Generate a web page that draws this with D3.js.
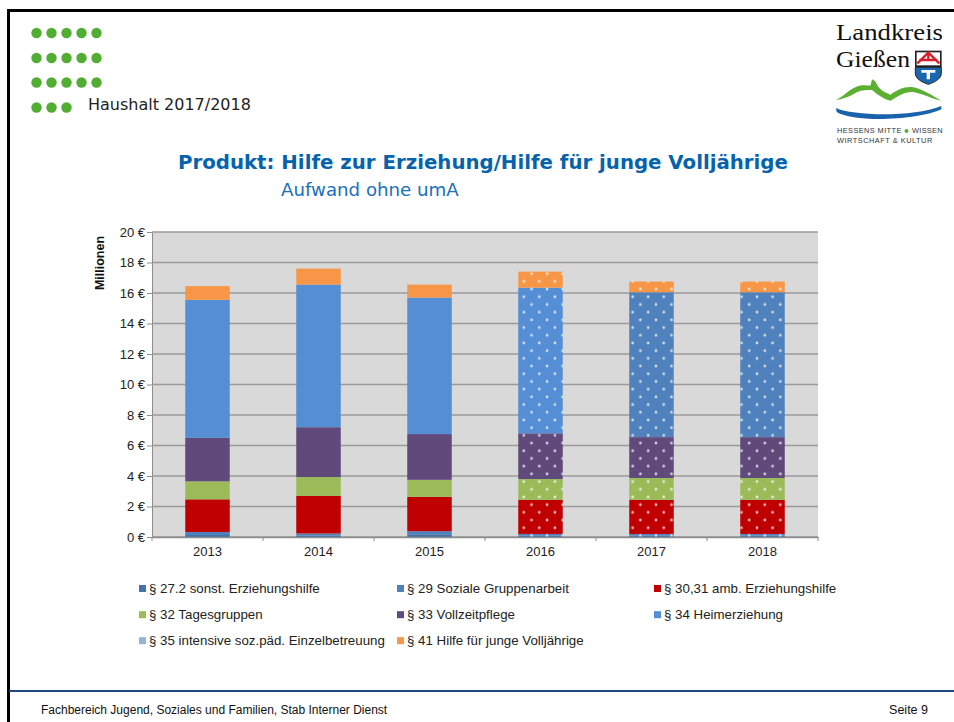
<!DOCTYPE html>
<html><head><meta charset="utf-8">
<script src="https://cdn.jsdelivr.net/npm/d3@7/dist/d3.min.js"></script>
<style>html,body{margin:0;padding:0;background:#fff}svg{display:block}</style>
</head><body><svg id="c" width="954" height="722"></svg>
<script>
const years = ["2013","2014","2015","2016","2017","2018"];
const yTicks = [0,2,4,6,8,10,12,14,16,18,20];
const seriesNames = ["§ 27.2 sonst. Erziehungshilfe","§ 29 Soziale Gruppenarbeit","§ 30,31 amb. Erziehungshilfe","§ 32 Tagesgruppen","§ 33 Vollzeitpflege","§ 34 Heimerziehung","§ 35 intensive soz.päd. Einzelbetreuung","§ 41 Hilfe für junge Volljährige"];
const seriesColors = ["#4572a7","#4f81bd","#c00000","#9bbb59","#604a7b","#558ed5","#95b3d7","#f79646"];
const s272 = [0.13,0.10,0.18,0.10,0.10,0.10];
const s29  = [0.20,0.13,0.20,0.10,0.10,0.10];
const s3031= [2.14,2.47,2.25,2.23,2.23,2.23];
const s32  = [1.18,1.23,1.12,1.37,1.44,1.44];
const s33  = [2.85,3.27,3.00,3.00,2.68,2.68];
const s34  = [9.05,9.35,8.95,9.55,9.50,9.50];
const s35  = [0,0,0,0,0,0];
const s41  = [0.90,1.05,0.85,1.05,0.70,0.70];
const allSeries = [s272,s29,s3031,s32,s33,s34,s35,s41];
const plannedYears = ["2016","2017","2018"];
const darkerHeimYears = ["2017","2018"];
const dotRows = [5,5,5,3];

const svg = d3.select("#c");
const defs = svg.append("defs");
const m = {l:152,r:818,t:232,b:537};

// frame
svg.append("path").attr("d","M8.5,722V10.5H954").attr("fill","none").attr("stroke","#000").attr("stroke-width",3);
svg.append("line").attr("x1",9).attr("x2",954).attr("y1",691).attr("y2",691).attr("stroke","#1f497d").attr("stroke-width",2);

// dots
dotRows.forEach((n,r)=>{
  svg.append("g").selectAll("circle").data(d3.range(n)).join("circle")
    .attr("cx",d=>36.5+d*15).attr("cy",[33,58,82.5,107.5][r]).attr("r",5.2).attr("fill","#52ae32");
});
svg.append("text").attr("x",88).attr("y",110).attr("font-family","DejaVu Sans").attr("font-size",16).attr("fill","#222").text("Haushalt 2017/2018");

// titles
svg.append("text").attr("x",178).attr("y",169).attr("font-family","DejaVu Sans").attr("font-weight","bold").attr("font-size",19.75).attr("fill","#0563ae").text("Produkt: Hilfe zur Erziehung/Hilfe für junge Volljährige");
svg.append("text").attr("x",281).attr("y",196).attr("font-family","DejaVu Sans").attr("font-size",18.2).attr("fill","#1a6fc0").text("Aufwand ohne umA");

// logo
const lg = svg.append("g").attr("transform","translate(800,10) scale(0.3333)");
lg.append("path").attr("fill","#5cb031").attr("d","M108,270C130,262 150,232 185,226C198,224 206,228 212,226L216,208L226,214L232,226C240,240 258,250 272,254C290,240 315,228 340,232C365,236 395,256 424,272C395,266 365,250 340,246C315,244 295,258 272,272C250,268 228,250 216,240C195,240 180,240 165,250C145,262 125,268 108,270Z");
lg.append("path").attr("fill","#1b62ad").attr("d","M108,294C160,318 340,322 424,288L424,298C350,332 160,338 110,306Z");
lg.append("path").attr("fill","#222").attr("d","M345,122H425V172H345Z");
lg.append("path").attr("fill","#fff").attr("d","M350,127H420V166H350Z");
lg.append("path").attr("fill","none").attr("stroke","#d81e2a").attr("stroke-width",7).attr("d","M352,160L385,128L418,160M358,150H412M385,128V150");
lg.append("path").attr("fill","#1b66b0").attr("stroke","#222").attr("stroke-width",3).attr("d","M346,172H424V190C424,208 400,218 385,223C370,218 346,208 346,190Z");
lg.append("path").attr("fill","#fff").attr("d","M364,180H406V188H390V208H380V188H364Z");
const lgT = svg.append("g").attr("fill","#111");
lgT.append("text").attr("x",836).attr("y",40).attr("font-family","Liberation Serif").attr("font-size",23.5).attr("textLength",107).attr("lengthAdjust","spacingAndGlyphs").text("Landkreis");
lgT.append("text").attr("x",836).attr("y",66.5).attr("font-family","Liberation Serif").attr("font-size",23.5).attr("textLength",74).attr("lengthAdjust","spacingAndGlyphs").text("Gießen");
lgT.append("text").attr("x",837).attr("y",133).attr("font-family","Liberation Sans").attr("font-size",7.4).attr("letter-spacing",0.4).attr("fill","#333").text("HESSENS MITTE");
svg.append("circle").attr("cx",906.5).attr("cy",131).attr("r",2).attr("fill","#5cb031");
lgT.append("text").attr("x",912).attr("y",133).attr("font-family","Liberation Sans").attr("font-size",7.4).attr("letter-spacing",0.3).attr("fill","#333").text("WISSEN");
lgT.append("text").attr("x",837).attr("y",143).attr("font-family","Liberation Sans").attr("font-size",7.4).attr("letter-spacing",0.5).attr("fill","#333").text("WIRTSCHAFT & KULTUR");

// chart
const xOuter = d3.scaleBand().domain(years).range([m.l,m.r]);
const y = d3.scaleLinear().domain([0,20]).range([m.b,m.t]);
svg.append("rect").attr("x",m.l).attr("y",m.t).attr("width",m.r-m.l).attr("height",m.b-m.t).attr("fill","#d9d9d9");

const yAxis = d3.axisLeft(y).tickValues(yTicks).tickSize(5).tickPadding(2).tickFormat(d=>d+" €");
const yg = svg.append("g").attr("transform",`translate(${m.l},0)`).call(yAxis);
yg.select(".domain").attr("stroke","#8c8c8c");
yg.selectAll("line").attr("stroke","#8c8c8c");
yg.selectAll("text").attr("font-family","Liberation Sans").attr("font-size",13).attr("fill","#222");
svg.append("g").selectAll("line").data(yTicks).join("line")
  .attr("x1",m.l).attr("x2",m.r).attr("y1",d=>y(d)).attr("y2",d=>y(d))
  .attr("stroke","#9a9a9a").attr("stroke-width",1.4);

const table = years.map((yr,i)=>{const o={year:yr};seriesNames.forEach((n,k)=>o[n]=allSeries[k][i]);return o;});
const stacked = d3.stack().keys(seriesNames)(table);

const pat = (id,col)=>{
  const w=15.55,h=15.4;
  const p = defs.append("pattern").attr("id",id).attr("patternUnits","userSpaceOnUse").attr("width",w).attr("height",h).attr("patternTransform","translate(516,266)");
  p.append("rect").attr("width",w).attr("height",h).attr("fill",col);
  [[0,h/2],[w,h/2],[w/2,0],[w/2,h]].forEach(c=>
    p.append("circle").attr("cx",c[0]).attr("cy",c[1]).attr("r",1.35).attr("fill","#fff").attr("opacity",.75));
};
seriesColors.forEach((c,k)=>pat("p"+k,c));
pat("pDark","#4f81bd");

const bw = 44.5;
svg.append("g").selectAll("g").data(stacked).join("g").each(function(ser,k){
  d3.select(this).selectAll("rect").data(ser).join("rect")
    .attr("x",d=>xOuter(d.data.year)+xOuter.bandwidth()/2-bw/2)
    .attr("width",bw)
    .attr("y",d=>y(d[1])).attr("height",d=>y(d[0])-y(d[1]))
    .attr("fill",d=>{
      const yr=d.data.year;
      if(!plannedYears.includes(yr)) return seriesColors[k];
      if(k===5 && darkerHeimYears.includes(yr)) return "url(#pDark)";
      return `url(#p${k})`;
    });
});

const xAxis = d3.axisBottom(xOuter).tickSize(0).tickPadding(10);
const xg = svg.append("g").attr("transform",`translate(0,${m.b})`).call(xAxis);
xg.select(".domain").attr("stroke","#8c8c8c").attr("stroke-width",1.4);
xg.selectAll("text").attr("font-family","Liberation Sans").attr("font-size",13).attr("fill","#222");
svg.append("g").selectAll("line").data(d3.range(years.length+1)).join("line")
  .attr("x1",i=>m.l+i*xOuter.step()).attr("x2",i=>m.l+i*xOuter.step())
  .attr("y1",m.b).attr("y2",m.b+4).attr("stroke","#8c8c8c");

svg.append("text").attr("transform","translate(104,263) rotate(-90)").attr("text-anchor","middle")
  .attr("font-family","Liberation Sans").attr("font-weight","bold").attr("font-size",12.5).attr("fill","#111").text("Millionen");

// legend
const lx=[139,397,654], ly=[588.5,614.7,640.7];
const lg2 = svg.append("g").selectAll("g").data(seriesNames).join("g")
  .attr("transform",(d,i)=>`translate(${lx[i%3]},${ly[Math.floor(i/3)]})`);
lg2.append("rect").attr("x",0).attr("y",-3.5).attr("width",7).attr("height",7).attr("fill",(d,i)=>seriesColors[i]);
lg2.append("text").attr("x",10).attr("y",4.5).attr("font-family","Liberation Sans").attr("font-size",13.3).attr("fill","#222").text(d=>d);

// footer
svg.append("text").attr("x",41).attr("y",714).attr("font-family","Liberation Sans").attr("font-size",12).attr("fill","#111").text("Fachbereich Jugend, Soziales und Familien, Stab Interner Dienst");
svg.append("text").attr("x",928).attr("y",714).attr("text-anchor","end").attr("font-family","Liberation Sans").attr("font-size",12.5).attr("fill","#111").text("Seite 9");
</script></body></html>
